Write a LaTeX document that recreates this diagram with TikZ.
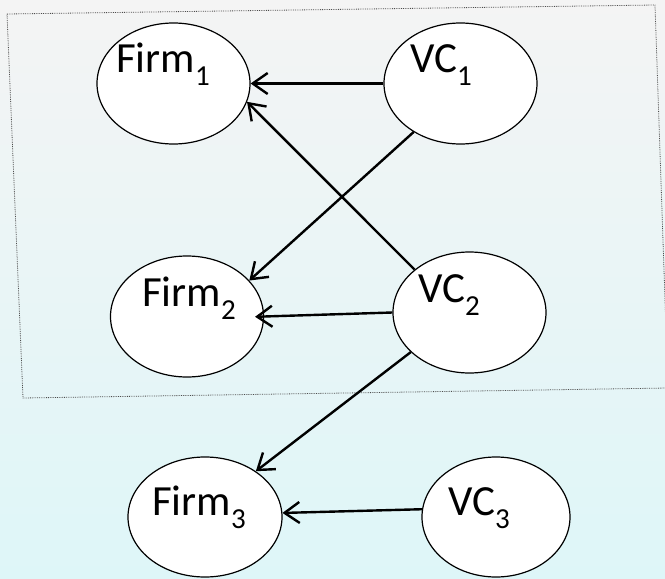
\documentclass[tikz,border=0pt]{standalone}
\usepackage{fontspec}
\setmainfont{Carlito}
\usetikzlibrary{arrows.meta,shapes.geometric,calc}

\definecolor{bgtop}{HTML}{F4F4F4}
\definecolor{bgbot}{HTML}{DEF6F8}
\newcommand{\idx}[1]{\raisebox{-13pt}{\fontsize{29}{29}\selectfont #1}}

\tikzset{
  agent/.style={ellipse, draw, line width=1.2pt, fill=white, inner sep=0pt,
    minimum width=153pt, minimum height=121pt},
  tag/.style={font=\fontsize{43}{43}\selectfont, inner sep=0pt, anchor=base west},
  link/.style={line width=2.4pt, -{Straight Barb[length=15pt,width=21pt]}}
}

\begin{document}
\begin{tikzpicture}[x=1pt,y=-1pt]

	\shade[top color=bgtop, bottom color=bgbot] (0,0) rectangle (665,579);
	\useasboundingbox (0,0) rectangle (665,579);

	% dotted frame round the first two pairs
	\draw[densely dotted, line width=0.8pt, black!70] (7,14) -- (655,5) -- (668,388) -- (23,398) -- cycle;

	\node[agent] (firmA) at (173.5,83.5) {};
	\node[agent] (vcA) at (460.5,83.5) {};
	\node[agent] (firmB) at (187,316.5) {};
	\node[agent] (vcB) at (469.5,312.5) {};
	\node[agent, minimum width=154pt, minimum height=120pt] (firmC) at (205,517) {};
	\node[agent, minimum width=148pt, minimum height=120pt] (vcC) at (496,517) {};

	\node[tag] (firmAtxt) at (116,72) {Firm\idx{1}};
	\node[tag] (vcAtxt) at (410,72) {VC\idx{1}};
	\node[tag] (firmBtxt) at (142,306) {Firm\idx{2}};
	\node[tag] (vcBtxt) at (418,302) {VC\idx{2}};
	\node[tag] (firmCtxt) at (152,515) {Firm\idx{3}};
	\node[tag] (vcCtxt) at (448,515) {VC\idx{3}};

	\draw[link] (vcA.180) -- (firmA.0);
	\draw[link] (vcB.142) -- (firmA.-14);
	\draw[link] (vcA.226) -- (firmB.30);
	\draw[link, shorten >=-9pt] (vcB.180) -- (firmB.0);
	\draw[link] (vcB.214) -- (firmC.42);
	\draw[link] (vcC.174) -- (firmC.3);

\end{tikzpicture}
\end{document}
